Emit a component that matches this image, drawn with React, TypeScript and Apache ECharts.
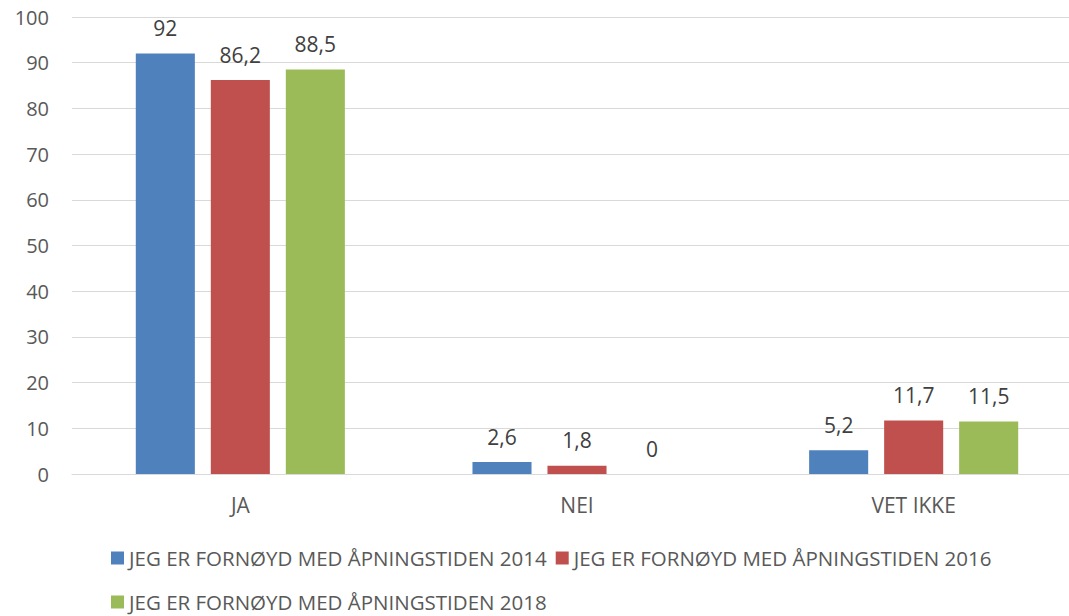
import React, { useEffect, useRef } from "react";
import * as echarts from "echarts";

const categories = ["JA", "NEI", "VET IKKE"];
const seriesNames = [
  "JEG ER FORNØYD MED ÅPNINGSTIDEN 2014",
  "JEG ER FORNØYD MED ÅPNINGSTIDEN 2016",
  "JEG ER FORNØYD MED ÅPNINGSTIDEN 2018",
];
const values2014 = [92, 2.6, 5.2];
const values2016 = [86.2, 1.8, 11.7];
const values2018 = [88.5, 0, 11.5];
const colors = ["#4f81bd", "#c0504d", "#9bbb59"];

const FONT = "'Open Sans', 'Noto Sans', sans-serif";

export default function App() {
  const ref = useRef<HTMLDivElement>(null);
  useEffect(() => {
    if (!ref.current) return;
    const chart = echarts.init(ref.current, undefined, { renderer: "svg" });
    const allValues = [values2014, values2016, values2018];
    const legendText = { fontSize: 20.5, lineHeight: 22, color: "#595959", fontFamily: FONT };
    chart.setOption({
      animation: false,
      backgroundColor: "#ffffff",
      textStyle: { fontFamily: FONT },
      grid: { left: 72, top: 17, right: 4, height: 457 },
      legend: [
        {
          data: [seriesNames[0], seriesNames[1]],
          left: 106,
          top: 542,
          itemWidth: 13,
          itemHeight: 13,
          itemGap: 9,
          icon: "rect",
          textStyle: legendText,
        },
        {
          data: [seriesNames[2]],
          left: 106,
          top: 586,
          itemWidth: 13,
          itemHeight: 13,
          itemGap: 9,
          icon: "rect",
          textStyle: legendText,
        },
      ],
      xAxis: {
        type: "category",
        data: categories,
        axisLine: { show: true, lineStyle: { color: "#d9d9d9", width: 1 } },
        axisTick: { show: false },
        axisLabel: { fontSize: 21, color: "#595959", margin: 20, fontFamily: FONT },
      },
      yAxis: {
        type: "value",
        min: 0,
        max: 100,
        interval: 10,
        axisLine: { show: false },
        axisTick: { show: false },
        splitLine: { lineStyle: { color: "#d9d9d9", width: 1 } },
        axisLabel: { fontSize: 20, color: "#595959", margin: 23, fontFamily: FONT },
      },
      series: allValues.map((vals, i) => ({
        type: "bar",
        name: seriesNames[i],
        data: vals,
        barGap: "27%",
        barCategoryGap: "37.9%",
        itemStyle: { color: colors[i] },
        label: {
          show: true,
          position: "top",
          distance: 15,
          fontSize: 21,
          color: "#404040",
          fontFamily: FONT,
          formatter: (p: any) => String(p.value).replace(".", ","),
        },
      })),
    });
    return () => chart.dispose();
  }, []);
  return (
    <div
      style={{
        position: "fixed",
        left: 0,
        top: 0,
        width: 1069,
        height: 616,
        overflow: "hidden",
      }}
    >
      <div ref={ref} style={{ width: 1086, height: 616 }} />
    </div>
  );
}
